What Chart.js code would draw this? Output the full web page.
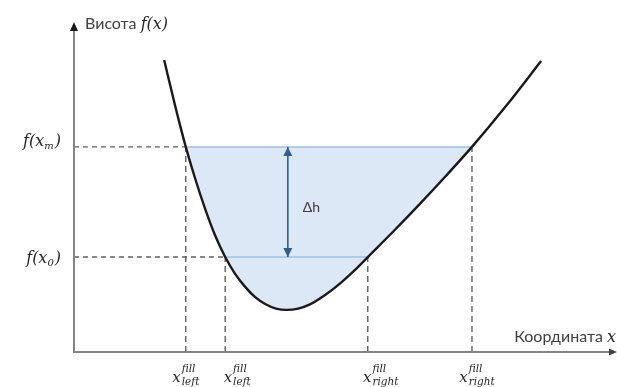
<!DOCTYPE html>
<html>
<head>
<meta charset="utf-8">
<script src="https://cdn.jsdelivr.net/npm/chart.js@4/dist/chart.umd.min.js"></script>
<style>
  html, body { margin: 0; padding: 0; background: #ffffff; }
  canvas { display: block; }
</style>
</head>
<body>
<canvas id="chart" width="617" height="387"></canvas>
<script>
// Height profile f(x) sampled along the coordinate axis
const curveX = [16.7, 18.7, 20.7, 22.4, 24.3, 26.1, 28.0, 29.8, 31.7, 33.5, 35.4, 37.4, 39.4,
                41.5, 43.7, 46.5, 49.3, 51.9, 54.4, 59.3, 64.1, 68.9, 73.7, 80.0, 86.5];
const curveY = [90.1, 76.2, 63.3, 53.7, 44.1, 36.1, 29.3, 24.2, 20.1, 17.0, 14.8, 13.4, 13.0,
                13.4, 14.7, 17.6, 21.2, 25.1, 29.3, 37.5, 45.8, 54.4, 63.3, 75.9, 89.8];

// Fill levels: f(x_m) and f(x_0)
const levelSubs   = ['m', '0'];
const levelValues = [63.3, 29.3];
const crossLeft   = [20.7, 28.0];   // x_left^fill for each level
const crossRight  = [73.7, 54.4];   // x_right^fill for each level

// Tick labels on the coordinate axis
const tickValues = [20.7, 28.0, 54.4, 73.7];
const tickLevels = [63.3, 29.3, 29.3, 63.3];
const tickSubs   = ['left', 'left', 'right', 'right'];
const tickSup    = 'fill';

// Position of the Δh arrow
const deltaX = 39.6;

const yTitle = 'Висота';
const xTitle = 'Координата';

const SANS = 'Lato, "Open Sans", sans-serif';
const MATH = '"DejaVu Serif", serif';
const GREY_TEXT = '#404040';
const MATH_TEXT = '#262626';
const DASH_GREY = '#606060';
const LEVEL_BLUE = '#9dc0e4';
const FILL_BLUE = '#dce8f5';
const ARROW_BLUE = '#2f5f91';

const pts = (xs, ys) => xs.map((x, i) => ({ x, y: ys[i] }));

const datasets = [];

// main profile curve (drawn on top); fills the basin up to f(x_m)
datasets.push({
  data: pts(curveX, curveY),
  borderColor: '#1a1a1a',
  borderWidth: 2.4,
  cubicInterpolationMode: 'monotone',
  pointRadius: 0,
  order: 0,
  fill: { target: { value: levelValues[0] }, above: 'rgba(0,0,0,0)', below: FILL_BLUE }
});

// solid blue level lines across the basin
levelValues.forEach((lv, i) => {
  datasets.push({
    data: [{ x: crossLeft[i], y: lv }, { x: crossRight[i], y: lv }],
    borderColor: LEVEL_BLUE, borderWidth: 1.5, pointRadius: 0, order: 2, fill: false
  });
});

// dashed guides from the vertical axis to the left crossing
levelValues.forEach((lv, i) => {
  datasets.push({
    data: [{ x: 0, y: lv }, { x: crossLeft[i], y: lv }],
    borderColor: DASH_GREY, borderWidth: 1.4, borderDash: [5, 4],
    pointRadius: 0, order: 3, fill: false
  });
});

// dashed guides down to the coordinate axis
tickValues.forEach((t, i) => {
  datasets.push({
    data: [{ x: t, y: 0 }, { x: t, y: tickLevels[i] }],
    borderColor: DASH_GREY, borderWidth: 1.4, borderDash: [6, 4],
    pointRadius: 0, order: 3, fill: false
  });
});

// Δh shaft
datasets.push({
  data: [{ x: deltaX, y: levelValues[1] }, { x: deltaX, y: levelValues[0] }],
  borderColor: ARROW_BLUE, borderWidth: 1.6, pointRadius: 0, order: 1, fill: false
});

function runs(ctx, x, y, list) {
  let cx = x;
  list.forEach(r => {
    ctx.font = r.font;
    ctx.fillStyle = r.color || GREY_TEXT;
    ctx.fillText(r.t, cx, y + (r.dy || 0));
    cx += ctx.measureText(r.t).width + (r.gap || 0);
  });
  return cx - x;
}
function runsWidth(ctx, list) {
  let w = 0;
  list.forEach(r => { ctx.font = r.font; w += ctx.measureText(r.t).width + (r.gap || 0); });
  return w;
}
function tri(ctx, tipX, tipY, dir, len, half, color) {
  ctx.fillStyle = color;
  ctx.beginPath();
  if (dir === 'up') {
    ctx.moveTo(tipX, tipY); ctx.lineTo(tipX - half, tipY + len); ctx.lineTo(tipX + half, tipY + len);
  } else if (dir === 'down') {
    ctx.moveTo(tipX, tipY); ctx.lineTo(tipX - half, tipY - len); ctx.lineTo(tipX + half, tipY - len);
  } else {
    ctx.moveTo(tipX, tipY); ctx.lineTo(tipX - len, tipY - half); ctx.lineTo(tipX - len, tipY + half);
  }
  ctx.closePath();
  ctx.fill();
}

const decorations = {
  id: 'decorations',
  afterDatasetsDraw(chart) {
    const { ctx, scales: { x, y } } = chart;
    const x0 = x.getPixelForValue(0);
    const y0 = y.getPixelForValue(0);
    ctx.save();

    // axes
    ctx.strokeStyle = '#858585';
    ctx.lineWidth = 2;
    ctx.beginPath();
    ctx.moveTo(x0, y0 + 1); ctx.lineTo(x0, 30);
    ctx.moveTo(x0 - 1, y0); ctx.lineTo(610, y0);
    ctx.stroke();
    tri(ctx, x0, 22, 'up', 9, 4, '#1a1a1a');
    tri(ctx, 617, y0, 'right', 8, 3.5, '#404040');

    // Δh arrowheads
    const ax = x.getPixelForValue(deltaX);
    const top = y.getPixelForValue(levelValues[0]);
    const bot = y.getPixelForValue(levelValues[1]);
    tri(ctx, ax, top, 'up', 9, 4.5, ARROW_BLUE);
    tri(ctx, ax, bot, 'down', 9, 4.5, ARROW_BLUE);

    ctx.textBaseline = 'alphabetic';
    ctx.textAlign = 'left';

    // Δh label
    runs(ctx, ax + 15, (top + bot) / 2 + 10, [{ t: 'Δh', font: '14px ' + SANS }]);

    // vertical axis title
    runs(ctx, x0 + 11, 29, [
      { t: yTitle + ' ', font: '16px ' + SANS },
      { t: 'f(x)', font: 'italic 16px ' + MATH, color: MATH_TEXT }
    ]);

    // horizontal axis title, ending at the right edge
    const xt = [
      { t: xTitle + ' ', font: '16px ' + SANS },
      { t: 'x', font: 'italic 16px ' + MATH, color: MATH_TEXT }
    ];
    runs(ctx, 616 - runsWidth(ctx, xt), y0 - 10, xt);

    // level labels f(x_m), f(x_0)
    const levelNudge = [-1, 6];
    levelValues.forEach((lv, i) => {
      const list = [
        { t: 'f(x', font: 'italic 16px ' + MATH, color: MATH_TEXT },
        { t: levelSubs[i], font: 'italic 10px ' + MATH, color: MATH_TEXT, dy: 3, gap: 1 },
        { t: ')', font: 'italic 16px ' + MATH, color: MATH_TEXT }
      ];
      const w = runsWidth(ctx, list);
      runs(ctx, 61 - w, y.getPixelForValue(lv) + levelNudge[i], list);
    });

    // tick labels x^fill_left / x^fill_right
    const tickNudge = [0, 12, 13, 5];
    tickValues.forEach((t, i) => {
      ctx.font = 'italic 10.5px ' + MATH;
      const sw = Math.max(ctx.measureText(tickSup).width, ctx.measureText(tickSubs[i]).width);
      ctx.font = 'italic 15px ' + MATH;
      const xw = ctx.measureText('x').width;
      const left = x.getPixelForValue(t) - (xw + 1 + sw) / 2 + tickNudge[i];
      ctx.fillStyle = MATH_TEXT;
      ctx.fillText('x', left, y0 + 30);
      ctx.font = 'italic 10.5px ' + MATH;
      ctx.fillText(tickSup, left + xw + 1, y0 + 20);
      ctx.fillText(tickSubs[i], left + xw + 1, y0 + 33);
    });

    ctx.restore();
  }
};

new Chart(document.getElementById('chart'), {
  type: 'scatter',
  data: { datasets: datasets.map(d => Object.assign({ showLine: true }, d)) },
  options: {
    responsive: false,
    animation: false,
    devicePixelRatio: 1,
    layout: { padding: { left: 74, right: 3, top: 28, bottom: 35 } },
    scales: {
      x: { type: 'linear', min: 0, max: 100, display: false },
      y: { type: 'linear', min: 0, max: 100, display: false }
    },
    plugins: {
      legend: { display: false },
      tooltip: { enabled: false },
      filler: { drawTime: 'beforeDatasetsDraw' }
    }
  },
  plugins: [decorations]
});
</script>
</body>
</html>
